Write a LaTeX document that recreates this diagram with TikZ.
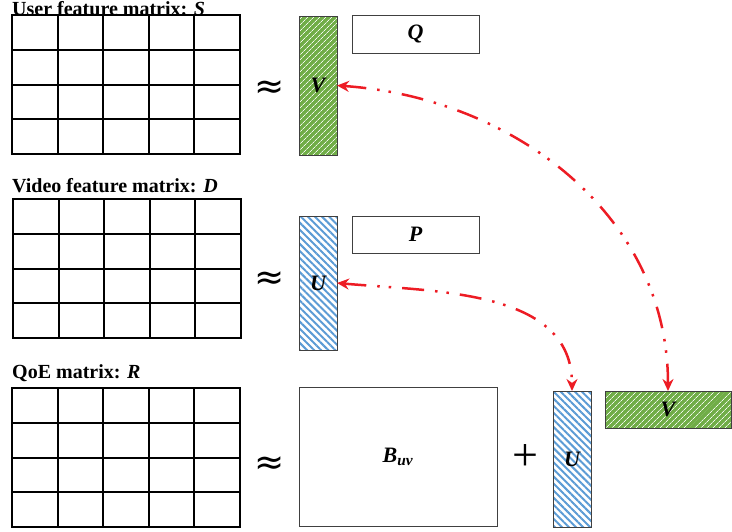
\documentclass[tikz,border=0pt]{standalone}
\usepackage{fontspec}
\setmainfont{Liberation Serif}
\newfontfamily\signfont{DejaVu Sans}
\usetikzlibrary{positioning,patterns.meta,arrows.meta}

\definecolor{barblue}{RGB}{91,155,213}
\definecolor{bargreen}{RGB}{112,173,71}
\definecolor{linkred}{RGB}{237,28,36}

\tikzset{
  cell/.style={line width=2pt,line cap=rect},
  mtitle/.style={anchor=base west,inner sep=0pt,font=\fontsize{20}{20}\selectfont\bfseries},
  approxsign/.style={inner sep=0pt,font=\signfont\fontsize{36}{36}\selectfont},
  factor/.style={draw=black!75,line width=0.8pt,inner sep=0pt,outer sep=0pt,
    font=\fontsize{22}{22}\selectfont\bfseries\itshape},
  greenbar/.style={factor,preaction={fill=bargreen},
    pattern={Lines[angle=45,distance=4pt,line width=0.7pt]},pattern color=white!90!bargreen},
  bluebar/.style={factor,preaction={fill=white},
    pattern={Lines[angle=135,distance=5pt,line width=2pt]},pattern color=barblue},
  plainbox/.style={factor,fill=white},
  link/.style={linkred,line width=2.5pt,
    dash pattern=on 22pt off 11pt on 2.5pt off 9pt on 2.5pt off 11pt,
    {Stealth[length=12pt,width=11pt]}-{Stealth[length=12pt,width=11pt]}}
}

% 5x4 grid, top left corner at (#1,#2)
\newcommand\featgrid[2]{
  \foreach \i in {0,...,5}
    \draw[cell] (#1+45.6*\i,#2) -- ++(0,139);
  \foreach \j in {0,...,4}
    \draw[cell] (#1,#2+34.75*\j) -- ++(228,0);
}

\begin{document}
\begin{tikzpicture}[x=1pt,y=-1pt]
\useasboundingbox (0,0) rectangle (732,531);

% user features
\node[mtitle] (Stitle) at (12,15) {User feature matrix: \textit{S}};
\featgrid{12}{15}
\node[approxsign] (approx1) at (270,90) {≈};
\node[greenbar,minimum width=38pt,minimum height=139pt] (Vcol) at (318,85.5) {V};
\node[plainbox,minimum width=127pt,minimum height=38pt] (Q) at (415.5,34) {Q};

% video features
\node[mtitle] (Dtitle) at (12,192) {Video feature matrix: \textit{D}};
\featgrid{13}{199}
\node[approxsign] (approx2) at (270,281) {≈};
\node[bluebar,minimum width=38pt,minimum height=134pt] (Ucol) at (318,283) {U};
\node[plainbox,minimum width=127pt,minimum height=37pt] (P) at (415.5,234.5) {P};

% QoE
\node[mtitle] (Rtitle) at (12,378) {QoE matrix: \textit{R}};
\featgrid{12}{388}
\node[approxsign] (approx3) at (270,466) {≈};
\node[plainbox,minimum width=198pt,minimum height=139pt] (B) at (398,456.5) {B\textsubscript{uv}};
\node[inner sep=0pt,font=\fontsize{46}{46}\selectfont] (plus) at (525,457) {+};
\node[bluebar,minimum width=38pt,minimum height=136pt] (Urow) at (572,459) {U};
\node[greenbar,minimum width=126pt,minimum height=37pt] (Vrow) at (668,409.5) {V};

% links between shared factors
\draw[link] (Vcol.east) to[out=-4,in=90] (Vrow.north);
\draw[link] (Ucol.east) to[out=-5,in=90] (Urow.north);
\end{tikzpicture}
\end{document}
